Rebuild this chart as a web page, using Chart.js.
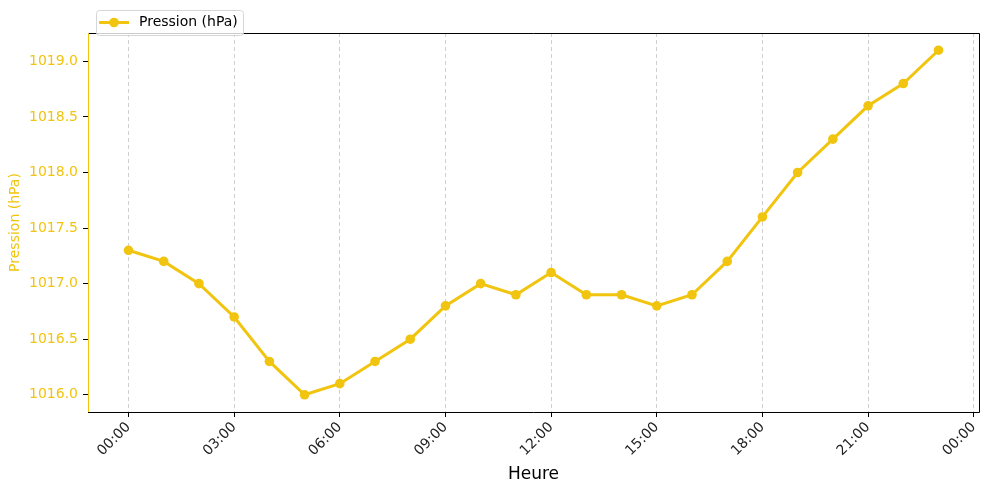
<!DOCTYPE html>
<html>
<head>
<meta charset="utf-8">
<script src="https://cdn.jsdelivr.net/npm/chart.js@4.4.1/dist/chart.umd.min.js"></script>
<style>
  html, body { margin: 0; padding: 0; background: #fff; }
  #wrap { width: 989px; height: 493px; }
</style>
</head>
<body>
<div id="wrap"><canvas id="chart" width="989" height="493"></canvas></div>
<script>
// --- DATA ---
const hours = [0, 1, 2, 3, 4, 5, 6, 7, 8, 9, 10, 11, 12, 13, 14, 15, 16, 17, 18, 19, 20, 21, 22, 23];
const pressure = [1017.3, 1017.2, 1017.0, 1016.7, 1016.3, 1016.0, 1016.1, 1016.3, 1016.5, 1016.8, 1017.0, 1016.9,
                  1017.1, 1016.9, 1016.9, 1016.8, 1016.9, 1017.2, 1017.6, 1018.0, 1018.3, 1018.6, 1018.8, 1019.1];
const xTicks = [0, 3, 6, 9, 12, 15, 18, 21, 24];
const yTicks = [1016.0, 1016.5, 1017.0, 1017.5, 1018.0, 1018.5, 1019.0];
const seriesLabel = "Pression (hPa)";

const YELLOW = "#f1c40f";
const FONT = "'DejaVu Sans', sans-serif";

const pad2 = (n) => String(n % 24).padStart(2, "0");

// spines + legend, matplotlib style
const framePlugin = {
  id: "frame",
  afterDraw(chart) {
    const { ctx, chartArea: a } = chart;
    ctx.save();
    ctx.lineWidth = 1;
    ctx.strokeStyle = "#000";
    ctx.beginPath();
    ctx.moveTo(a.left, a.top + 0.5);
    ctx.lineTo(a.right + 0.5, a.top + 0.5);
    ctx.lineTo(a.right + 0.5, a.bottom + 0.5);
    ctx.lineTo(a.left, a.bottom + 0.5);
    ctx.stroke();
    ctx.strokeStyle = YELLOW;
    ctx.beginPath();
    ctx.moveTo(a.left + 0.5, a.top);
    ctx.lineTo(a.left + 0.5, a.bottom);
    ctx.stroke();

    // legend box
    const bx = 96, by = 10, bw = 147, bh = 25, r = 3;
    ctx.beginPath();
    ctx.roundRect(bx + 0.5, by + 0.5, bw, bh, r);
    ctx.fillStyle = "rgba(255,255,255,0.8)";
    ctx.fill();
    ctx.strokeStyle = "#d6d6d6";
    ctx.stroke();
    ctx.strokeStyle = YELLOW;
    ctx.lineWidth = 3;
    ctx.beginPath();
    ctx.moveTo(99, 22.5);
    ctx.lineTo(129, 22.5);
    ctx.stroke();
    ctx.fillStyle = YELLOW;
    ctx.beginPath();
    ctx.arc(114, 22.5, 4.8, 0, Math.PI * 2);
    ctx.fill();
    ctx.fillStyle = "#000";
    ctx.font = "14px " + FONT;
    ctx.textBaseline = "middle";
    ctx.textAlign = "left";
    ctx.fillText(seriesLabel, 139, 22.5);
    ctx.restore();
  }
};

new Chart(document.getElementById("chart"), {
  type: "line",
  data: {
    datasets: [{
      label: seriesLabel,
      data: hours.map((h, i) => ({ x: h, y: pressure[i] })),
      borderColor: YELLOW,
      backgroundColor: YELLOW,
      borderWidth: 3,
      pointRadius: 4.8,
      pointHoverRadius: 4.8,
      pointBorderWidth: 0,
      tension: 0,
    }]
  },
  options: {
    responsive: false,
    animation: false,
    layout: { padding: { top: 33, right: 10, left: 0, bottom: 0 } },
    plugins: {
      legend: { display: false },
      tooltip: { enabled: false },
    },
    scales: {
      x: {
        type: "linear",
        min: -1.15,
        max: 24.15,
        afterBuildTicks: (scale) => { scale.ticks = xTicks.map(v => ({ value: v })); },
        afterFit: (scale) => { scale.height = 81; },
        ticks: {
          callback: (v) => pad2(v) + ":00",
          minRotation: 45,
          maxRotation: 45,
          padding: 2,
          color: "#222",
          font: { family: FONT, size: 14 },
        },
        grid: {
          color: "#cfcfcf",
          lineWidth: 1,
          tickColor: "#000",
          tickLength: 5,
          drawOnChartArea: true,
        },
        border: { display: false, dash: [4, 3] },
        title: {
          display: true,
          text: "Heure",
          color: "#000",
          font: { family: FONT, size: 17 },
          padding: { top: 0, bottom: 8 },
        },
      },
      y: {
        min: 1015.845,
        max: 1019.255,
        afterBuildTicks: (scale) => { scale.ticks = yTicks.map(v => ({ value: v })); },
        afterFit: (scale) => { scale.width = 88; },
        ticks: {
          callback: (v) => v.toFixed(1),
          color: YELLOW,
          padding: 5,
          font: { family: FONT, size: 14 },
        },
        grid: {
          drawOnChartArea: false,
          tickColor: "#000",
          tickLength: 5,
        },
        border: { display: false },
        title: {
          display: true,
          text: "Pression (hPa)",
          color: YELLOW,
          font: { family: FONT, size: 14 },
          padding: { top: 7, bottom: 0 },
        },
      },
    },
  },
  plugins: [framePlugin],
});
</script>
</body>
</html>
